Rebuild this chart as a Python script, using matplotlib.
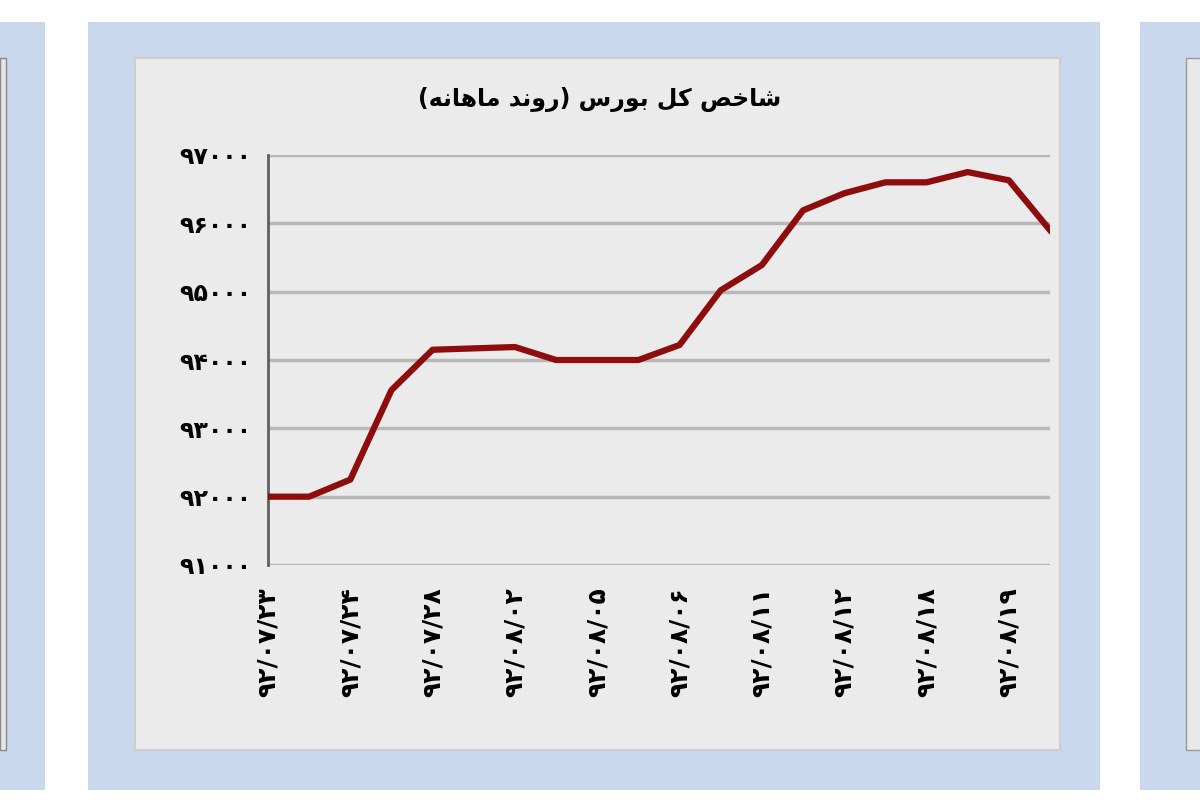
import matplotlib
matplotlib.use('Agg')
import matplotlib.pyplot as plt
from matplotlib.patches import Rectangle

# index values, one per trading day
values = [92000, 92000, 92250, 93560, 94150, 94170, 94190, 94000, 94000, 94000,
          94220, 95020, 95390, 96190, 96440, 96600, 96600, 96750, 96630, 95900]
# labels shown under every second point
date_labels = ['92/07/23', '92/07/24', '92/07/28', '92/08/02', '92/08/05',
               '92/08/06', '92/08/11', '92/08/12', '92/08/18', '92/08/19']
y_ticks = [91000, 92000, 93000, 94000, 95000, 96000, 97000]
title = 'شاخص کل بورس (روند ماهانه)'

# --- tiny Persian shaping (no arabic_reshaper available) ---
# letter: (isolated, final, initial, medial); None = does not join to the next letter
forms = {
    'ا': ('\uFE8D', '\uFE8E', None, None),
    'ب': ('\uFE8F', '\uFE90', '\uFE91', '\uFE92'),
    'خ': ('\uFEA5', '\uFEA6', '\uFEA7', '\uFEA8'),
    'د': ('\uFEA9', '\uFEAA', None, None),
    'ر': ('\uFEAD', '\uFEAE', None, None),
    'س': ('\uFEB1', '\uFEB2', '\uFEB3', '\uFEB4'),
    'ش': ('\uFEB5', '\uFEB6', '\uFEB7', '\uFEB8'),
    'ص': ('\uFEB9', '\uFEBA', '\uFEBB', '\uFEBC'),
    'ل': ('\uFEDD', '\uFEDE', '\uFEDF', '\uFEE0'),
    'م': ('\uFEE1', '\uFEE2', '\uFEE3', '\uFEE4'),
    'ن': ('\uFEE5', '\uFEE6', '\uFEE7', '\uFEE8'),
    'ه': ('\uFEE9', '\uFEEA', '\uFEEB', '\uFEEC'),
    'و': ('\uFEED', '\uFEEE', None, None),
    'ک': ('\uFB8E', '\uFB8F', '\uFB90', '\uFB91'),
}


def shape(text):
    out = []
    for i, c in enumerate(text):
        if c not in forms:
            out.append(c)
            continue
        prev = text[i - 1] if i > 0 else ''
        nxt = text[i + 1] if i + 1 < len(text) else ''
        join_prev = prev in forms and forms[prev][2] is not None
        join_next = nxt in forms and forms[c][2] is not None
        iso, fin, ini, med = forms[c]
        if join_prev and join_next:
            out.append(med)
        elif join_prev:
            out.append(fin)
        elif join_next:
            out.append(ini)
        else:
            out.append(iso)
    vis = ''.join(reversed(out))
    return vis.translate(str.maketrans('()', ')('))


def fa_digits(s):
    return str(s).translate(str.maketrans('0123456789', '۰۱۲۳۴۵۶۷۸۹'))


plt.rcParams['font.family'] = ['DejaVu Sans']

fig = plt.figure(figsize=(12, 8), dpi=100)
fig.patch.set_facecolor('white')


def box(x, y, w, h, **kw):
    fig.add_artist(Rectangle((x / 1200, 1 - (y + h) / 800), w / 1200, h / 800,
                             transform=fig.transFigure, zorder=-5, **kw))


blue = '#c9d8ec'
# side panels cut by the crop
box(0, 22, 45, 768, facecolor=blue, edgecolor='none')
box(0, 58, 6, 692, facecolor='#e6e6e6', edgecolor='#8a8a8a', lw=1)
box(1140, 22, 60, 768, facecolor=blue, edgecolor='none')
box(1186, 58, 20, 692, facecolor='#e8e8e8', edgecolor='#9a9a9a', lw=1)
# main panel
box(88, 22, 1012, 768, facecolor=blue, edgecolor='none')
box(135, 58, 925, 692, facecolor='#ebebeb', edgecolor='#cfcfcf', lw=1.5)

ax = fig.add_axes([268 / 1200, 1 - 565 / 800, 782 / 1200, 410 / 800])
ax.set_facecolor('#ebebeb')
x = list(range(len(values)))
ax.plot(x, values, color='#8e0c0c', lw=4.5, solid_joinstyle='round', zorder=3)
ax.set_xlim(0, len(values) - 1)
ax.set_ylim(y_ticks[0], y_ticks[-1])
ax.set_yticks(y_ticks)
ax.set_yticklabels([fa_digits(v) for v in y_ticks], fontsize=17, fontweight='bold')
ax.set_xticks(x[::2])
ax.set_xticklabels([fa_digits(d) for d in date_labels], rotation=90,
                   fontsize=18, fontweight='bold')
ax.grid(axis='y', color='#b8b8b8', lw=2.5)
ax.set_axisbelow(True)
ax.tick_params(axis='y', length=0, pad=12)
ax.tick_params(axis='x', length=0, pad=16)
for s in ['top', 'right', 'bottom']:
    ax.spines[s].set_visible(False)
ax.spines['left'].set_color('#606060')
ax.spines['left'].set_linewidth(2)

fig.text(600 / 1200, 1 - 100 / 800, shape(title), ha='center', va='center',
         fontsize=17, fontweight='bold')

fig.savefig('out.png', dpi=100)
